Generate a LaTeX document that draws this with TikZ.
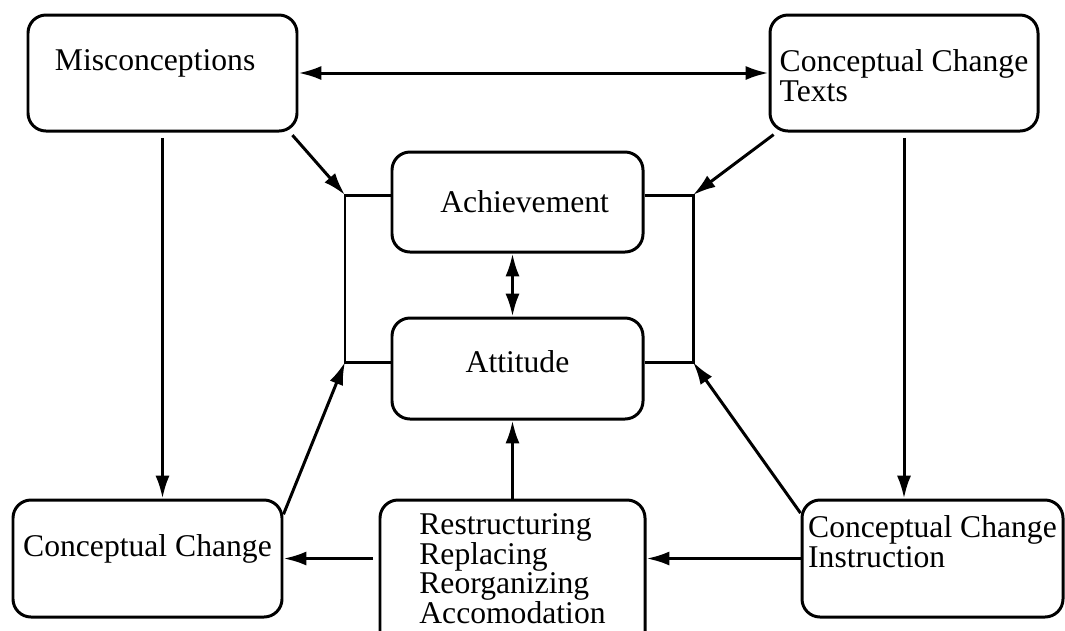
\documentclass[tikz,border=0pt]{standalone}
\usepackage{fontspec}
\setmainfont{Liberation Serif}
\usetikzlibrary{arrows.meta}

\begin{document}
\begin{tikzpicture}[
            box/.style={draw, line width=1.7pt, rounded corners=0.36cm,
                align=left, text height=0.42cm,
                font=\fontsize{18}{17}\selectfont},
            arrow/.style={-{Latex[length=13pt, width=8pt]}, line width=1.7pt},
            twoway/.style={{Latex[length=13pt, width=8pt]}-{Latex[length=13pt, width=8pt]}, line width=1.7pt},
            bracket/.style={line width=1.7pt},
        ]
            \useasboundingbox (0, 0) rectangle (21.3, -12.6);
            \clip (0, 0) rectangle (21.3, -12.6);
            \node[box, minimum width=5.38cm, minimum height=2.32cm, text width=4.3cm, text depth=0.54cm] (mis) at (3.25, -1.46) {Misconceptions};
            \node[box, minimum width=5.36cm, minimum height=2.32cm, text height=1.22cm, text depth=0.1cm] (cct) at (18.08, -1.46) {Conceptual Change\\Texts};
            \node[box, minimum width=5.02cm, minimum height=2.0cm, text width=3.66cm, align=right, text depth=0cm] (ach) at (10.35, -4.04) {Achievement};
            \node[box, minimum width=5.02cm, minimum height=2.02cm, text depth=0.28cm] (att) at (10.35, -7.37) {Attitude};
            \node[box, minimum width=5.38cm, minimum height=2.34cm, text depth=0.52cm] (cc) at (2.95, -11.17) {Conceptual Change};
            \node[box, minimum width=5.3cm, minimum height=3.0cm, text height=2.05cm, text depth=0.1cm] (res) at (10.25, -11.5)
                {Restructuring\\Replacing\\Reorganizing\\Accomodation};
            \node[box, minimum width=5.22cm, minimum height=2.34cm, text depth=0.08cm] (cci) at (18.65, -11.17) {Conceptual Change\\Instruction};
            % joints of the two brackets
            \coordinate (lt) at (6.9, -3.9);
            \coordinate (lb) at (6.9, -7.24);
            \coordinate (rt) at (13.86, -3.9);
            \coordinate (rb) at (13.86, -7.24);
            \draw[bracket] (lt -| ach.west) -- (lt) -- (lb) -- (lb -| att.west);
            \draw[bracket] (rt -| ach.east) -- (rt) -- (rb) -- (rb -| att.east);
            \draw[twoway] (mis) -- (cct);
            \draw[twoway] (ach.south -| res.north) -- (att.north -| res.north);
            \draw[arrow, shorten <=3pt] (mis.south) -- (mis.south |- cc.north);
            \draw[arrow, shorten <=3pt] (cct.south) -- (cct.south |- cci.north);
            \draw[arrow, shorten <=2pt] (mis.-25) -- (lt);
            \draw[arrow, shorten <=2pt] (cct.205) -- (rt);
            \draw[arrow] (cc.18) -- (lb);
            \draw[arrow] (cci.161) -- (rb);
            \draw[arrow] (res.north) -- (res.north |- att.south);
            \draw[arrow, shorten <=3pt] (res.west |- cc.east) -- (cc.east);
            \draw[arrow] (cci.west) -- (cci.west -| res.east);
        \end{tikzpicture}
\end{document}
